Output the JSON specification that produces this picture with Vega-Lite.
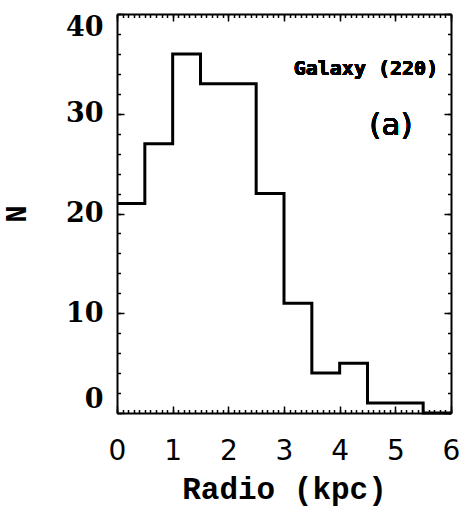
{
  "$schema": "https://vega.github.io/schema/vega-lite/v6.json",
  "autosize": "none",
  "width": 334,
  "height": 399,
  "padding": {"left": 117, "top": 14, "right": 11, "bottom": 97},
  "background": "white",
  "config": {
    "view": {"stroke": null},
    "axis": {"grid": false, "domainColor": "black", "tickColor": "black", "labelColor": "black", "titleColor": "black", "domainWidth": 2, "tickWidth": 1.5, "labelOverlap": false, "labelBound": false}
  },
  "data": {"values": [
    {"r": 0, "n": 21}, {"r": 0.5, "n": 27}, {"r": 1, "n": 36}, {"r": 1.5, "n": 33},
    {"r": 2, "n": 33}, {"r": 2.5, "n": 22}, {"r": 3, "n": 11}, {"r": 3.5, "n": 4},
    {"r": 4, "n": 5}, {"r": 4.5, "n": 1}, {"r": 5, "n": 1}, {"r": 5.5, "n": 0}, {"r": 6, "n": 0}
  ]},
  "resolve": {"axis": {"x": "independent", "y": "independent"}},
  "layer": [
    {
      "mark": {"type": "line", "interpolate": "step-after", "color": "black", "strokeWidth": 3},
      "encoding": {
        "x": {"field": "r", "type": "quantitative", "scale": {"domain": [0, 6], "nice": false, "zero": false},
          "axis": {"orient": "bottom", "values": [0, 1, 2, 3, 4, 5, 6], "ticks": false, "labelFlush": false, "labelPadding": 24, "labelFont": "DejaVu Sans", "labelFontSize": 28, "title": "Radio (kpc)", "titleFont": "Liberation Mono", "titleFontSize": 31, "titleFontWeight": "bold", "titlePadding": 9}},
        "y": {"field": "n", "type": "quantitative", "scale": {"domain": [0, 40], "nice": false},
          "axis": {"orient": "left", "values": [0, 10, 20, 30, 40], "ticks": false, "labelPadding": 14, "labelFont": "DejaVu Serif", "labelFontWeight": "bold", "labelFontSize": 27, "labelFlush": true, "title": "N", "titleFont": "Liberation Mono", "titleFontSize": 29, "titleFontWeight": "bold", "titlePadding": 34}}
      }
    },
    {
      "mark": {"type": "line", "opacity": 0},
      "encoding": {
        "x": {"field": "r", "type": "quantitative", "axis": {"orient": "top", "values": [0, 1, 2, 3, 4, 5, 6], "tickSize": -7, "labels": false, "title": null}},
        "y": {"field": "n", "type": "quantitative", "axis": {"orient": "right", "values": [0, 10, 20, 30, 40], "tickSize": -7, "labels": false, "title": null}}
      }
    },
    {
      "mark": {"type": "line", "opacity": 0},
      "encoding": {
        "x": {"field": "r", "type": "quantitative", "axis": {"orient": "bottom", "values": [0, 1, 2, 3, 4, 5, 6], "tickSize": -7, "labels": false, "domain": false, "title": null}},
        "y": {"field": "n", "type": "quantitative", "axis": {"orient": "left", "values": [0, 10, 20, 30, 40], "tickSize": -7, "labels": false, "domain": false, "title": null}}
      }
    },
    {
      "mark": {"type": "line", "opacity": 0},
      "encoding": {
        "x": {"field": "r", "type": "quantitative", "axis": {"orient": "top", "values": [0,0.1,0.2,0.3,0.4,0.5,0.6,0.7,0.8,0.9,1,1.1,1.2,1.3,1.4,1.5,1.6,1.7,1.8,1.9,2,2.1,2.2,2.3,2.4,2.5,2.6,2.7,2.8,2.9,3,3.1,3.2,3.3,3.4,3.5,3.6,3.7,3.8,3.9,4,4.1,4.2,4.3,4.4,4.5,4.6,4.7,4.8,4.9,5,5.1,5.2,5.3,5.4,5.5,5.6,5.7,5.8,5.9,6], "tickSize": -3.5, "labels": false, "domain": false, "title": null}},
        "y": {"field": "n", "type": "quantitative", "axis": {"orient": "right", "values": [0,2,4,6,8,10,12,14,16,18,20,22,24,26,28,30,32,34,36,38,40], "tickSize": -3.5, "labels": false, "domain": false, "title": null}}
      }
    },
    {
      "mark": {"type": "line", "opacity": 0},
      "encoding": {
        "x": {"field": "r", "type": "quantitative", "axis": {"orient": "bottom", "values": [0,0.1,0.2,0.3,0.4,0.5,0.6,0.7,0.8,0.9,1,1.1,1.2,1.3,1.4,1.5,1.6,1.7,1.8,1.9,2,2.1,2.2,2.3,2.4,2.5,2.6,2.7,2.8,2.9,3,3.1,3.2,3.3,3.4,3.5,3.6,3.7,3.8,3.9,4,4.1,4.2,4.3,4.4,4.5,4.6,4.7,4.8,4.9,5,5.1,5.2,5.3,5.4,5.5,5.6,5.7,5.8,5.9,6], "tickSize": -3.5, "labels": false, "domain": false, "title": null}},
        "y": {"field": "n", "type": "quantitative", "axis": {"orient": "left", "values": [0,2,4,6,8,10,12,14,16,18,20,22,24,26,28,30,32,34,36,38,40], "tickSize": -3.5, "labels": false, "domain": false, "title": null}}
      }
    },
    {
      "mark": {"type": "text", "align": "right", "baseline": "alphabetic", "font": "DejaVu Sans Mono", "fontWeight": "bold", "fontSize": 20, "color": "black"},
      "encoding": {
        "x": {"datum": 5.77, "type": "quantitative", "axis": null},
        "y": {"datum": 33.9, "type": "quantitative", "axis": null},
        "text": {"value": "Galaxy (220)"}
      }
    },
    {
      "mark": {"type": "text", "align": "center", "baseline": "middle", "font": "DejaVu Sans", "fontSize": 31, "color": "black"},
      "encoding": {
        "x": {"datum": 4.92, "type": "quantitative", "axis": null},
        "y": {"datum": 28.8, "type": "quantitative", "axis": null},
        "text": {"value": "(a)"}
      }
    }
  ]
}
